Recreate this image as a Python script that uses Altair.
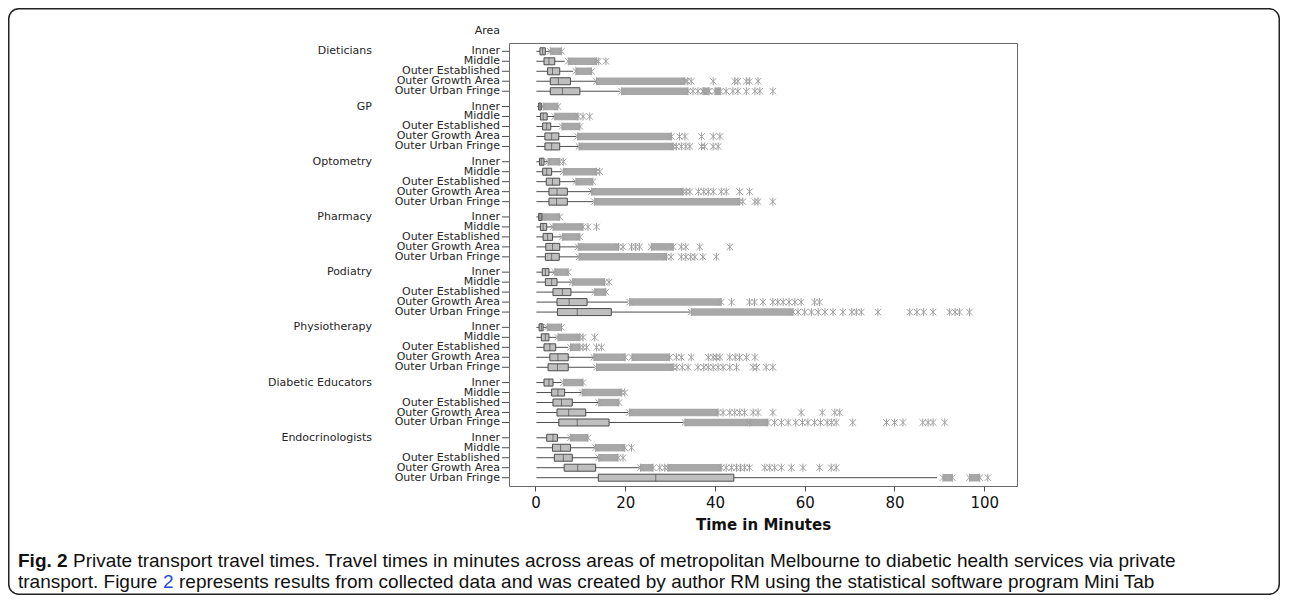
import altair as alt
import pandas as pd

services = ["Dieticians", "GP", "Optometry", "Pharmacy", "Podiatry",
            "Physiotherapy", "Diabetic Educators", "Endocrinologists"]
areas = ["Inner", "Middle", "Outer Established", "Outer Growth Area", "Outer Urban Fringe"]

# box statistics, one list of 5 areas per service
whisker_lo = [
    [0.2, 0.2, 0.2, 0.2, 0.2], [0.4, 0.2, 0.2, 0.2, 0.2], [0.2, 0.2, 0.2, 0.2, 0.2],
    [0.2, 0.2, 0.2, 0.2, 0.2], [0.2, 0.2, 0.2, 0.2, 0.2], [0.2, 0.2, 0.2, 0.2, 0.2],
    [0.2, 0.2, 0.2, 0.2, 0.2], [0.2, 0.2, 0.2, 0.2, 0.2]]
q1 = [
    [1.0, 1.9, 2.7, 3.3, 3.3], [0.7, 1.1, 1.6, 2.1, 2.1], [0.9, 1.6, 2.4, 3.0, 3.0],
    [0.7, 1.1, 1.7, 2.3, 2.2], [1.5, 2.2, 3.9, 4.8, 4.9], [0.8, 1.3, 1.9, 3.2, 2.8],
    [1.9, 3.6, 3.9, 4.8, 5.2], [2.5, 3.8, 4.2, 6.4, 14.0]]
median = [
    [1.6, 3.0, 3.8, 5.1, 6.0], [1.0, 1.7, 2.5, 3.6, 3.6], [1.3, 2.5, 3.8, 4.8, 4.7],
    [1.0, 1.7, 2.7, 3.8, 3.6], [2.2, 3.6, 6.0, 7.5, 9.3], [1.3, 2.2, 3.2, 5.0, 4.9],
    [3.0, 5.0, 5.8, 7.4, 9.3], [3.9, 5.6, 6.2, 9.4, 26.8]]
q3 = [
    [2.2, 4.3, 5.4, 7.8, 9.9], [1.3, 2.6, 3.4, 5.2, 5.4], [1.9, 3.6, 5.4, 7.1, 7.1],
    [1.4, 2.5, 3.8, 5.4, 5.3], [3.0, 4.8, 7.9, 11.5, 16.9], [1.7, 3.0, 4.5, 7.3, 7.3],
    [3.9, 6.5, 8.2, 11.2, 16.4], [4.9, 7.8, 8.2, 13.4, 44.2]]
whisker_hi = [
    [3.3, 6.5, 8.4, 13.6, 18.8], [1.7, 4.3, 5.4, 9.1, 9.5], [2.8, 5.8, 8.8, 12.5, 12.8],
    [1.6, 3.9, 5.8, 9.5, 9.5], [4.3, 8.0, 13.0, 20.6, 34.4], [2.6, 4.7, 7.3, 12.8, 13.2],
    [5.8, 10.2, 14.0, 20.6, 33.0], [7.6, 13.2, 14.0, 23.2, 89.5]]

# dense runs of outliers (start, end) per row
outlier_runs = [
    [[(3.3, 5.8)], [(7.3, 13.6)], [(9.0, 12.5)], [(13.6, 33.3)], [(19.2, 34.0), (37.5, 38.5), (40.0, 41.2)]],
    [[(1.7, 5.0)], [(4.3, 9.5)], [(5.9, 9.9)], [(9.4, 30.3)], [(9.7, 30.7)]],
    [[(2.8, 5.4)], [(6.2, 13.6)], [(9.0, 12.8)], [(12.5, 32.9)], [(13.1, 45.5)]],
    [[(1.6, 5.4)], [(3.9, 10.6)], [(6.0, 9.9)], [(9.5, 18.5), (25.8, 30.7)], [(9.7, 29.2)]],
    [[(4.3, 7.3)], [(8.2, 15.4)], [(13.2, 15.7)], [(21.0, 41.4)], [(34.7, 57.4)]],
    [[(2.6, 5.8)], [(5.0, 9.9)], [(7.8, 9.9)], [(13.0, 20.0), (21.5, 29.9)], [(13.6, 30.7)]],
    [[(6.2, 10.6)], [(10.4, 19.2)], [(14.1, 18.6)], [(20.9, 40.7)], [(33.3, 47.4), (47.7, 51.8)]],
    [[(7.8, 11.7)], [(13.4, 19.9)], [(14.1, 18.4)], [(23.4, 26.2), (29.5, 41.4)], [(90.8, 92.9), (96.7, 99.0)]],
]

# isolated outliers per row
outliers = [
    [[], [14.0, 15.7], [], [33.8, 34.7, 39.6, 44.4, 45.1, 47.0, 47.7, 49.6],
     [35.1, 36.2, 37.3, 38.7, 40.7, 42.5, 44.0, 45.1, 47.0, 48.9, 50.0, 52.9]],
    [[], [10.6, 12.1], [], [32.1, 33.3, 37.0, 39.6, 41.1],
     [31.4, 32.5, 33.5, 34.4, 37.0, 37.7, 39.6, 40.7]],
    [[6.2], [14.3], [], [33.6, 34.4, 36.3, 37.5, 38.5, 39.6, 41.4, 42.5, 45.5, 47.7],
     [46.2, 48.9, 49.6, 52.9]],
    [[], [11.7, 13.6], [], [19.5, 21.4, 22.3, 23.2, 32.5, 33.5, 36.6, 43.3],
     [30.2, 32.5, 33.5, 34.6, 35.5, 37.3, 40.3]],
    [[], [16.4], [], [43.7, 47.7, 48.8, 50.7, 52.9, 54.0, 55.2, 56.5, 57.8, 59.2, 62.2, 63.3],
     [58.5, 60.0, 61.5, 63.0, 64.5, 66.3, 68.5, 70.5, 71.5, 72.6, 76.3, 83.4, 85.0, 86.5, 88.6,
      92.3, 93.5, 94.5, 96.7]],
    [[], [10.6, 13.2], [10.6, 11.4, 13.6, 14.7],
     [31.4, 32.5, 34.7, 38.5, 39.6, 40.3, 41.1, 43.3, 44.5, 45.5, 47.0, 48.9],
     [31.5, 32.7, 34.0, 36.2, 37.5, 38.5, 39.6, 40.7, 41.8, 43.3, 44.8, 48.5, 49.3, 51.4, 52.9]],
    [[], [19.9], [], [41.8, 43.3, 44.4, 45.5, 46.6, 48.5, 49.6, 52.9, 59.2, 63.9, 66.7, 67.8],
     [53.3, 54.8, 56.3, 58.0, 59.5, 60.7, 62.2, 63.5, 65.0, 66.0, 67.0, 70.7, 78.2, 80.0, 81.9,
      86.3, 87.5, 88.6, 91.2]],
    [[], [21.4], [19.5], [27.7, 28.8, 42.5, 43.7, 44.8, 45.7, 46.6, 47.7, 51.1, 52.2, 53.3, 54.8,
                          57.0, 59.6, 63.3, 65.9, 67.0],
     [100.8]],
]

x_ticks = [0, 20, 40, 60, 80, 100]
x_title = "Time in Minutes"
caption_bold = "Fig. 2"
caption_line1 = ("Private transport travel times. Travel times in minutes across areas of "
                 "metropolitan Melbourne to diabetic health services via private")
caption_line2a = "transport. Figure"
caption_link = "2"
caption_line2b = ("represents results from collected data and was created by author RM using "
                  "the statistical software program Mini Tab")

# ---- tables built from the lists ----
box_rows, run_rows, pt_rows = [], [], []
for i, s in enumerate(services):
    for j, a in enumerate(areas):
        box_rows.append(dict(service=s, area=a, wlo=whisker_lo[i][j], q1=q1[i][j],
                             med=median[i][j], q3=q3[i][j], whi=whisker_hi[i][j]))
        for lo, hi in outlier_runs[i][j]:
            run_rows.append(dict(service=s, area=a, lo=lo, hi=hi))
            pt_rows.append(dict(service=s, area=a, v=lo))
            pt_rows.append(dict(service=s, area=a, v=hi))
        for v in outliers[i][j]:
            pt_rows.append(dict(service=s, area=a, v=v))
box_df = pd.DataFrame(box_rows)
run_df = pd.DataFrame(run_rows)
pt_df = pd.DataFrame(pt_rows)

DARK = "#4d4d4d"
LIGHT = "#a8a8a8"
LABEL = "#262626"

xscale = alt.Scale(domain=[-5.9, 107.3], nice=False, zero=False)
xaxis = alt.Axis(values=x_ticks, title=x_title, grid=False, domain=False,
                 tickColor=DARK, tickSize=5, labelFont="DejaVu Sans", labelFontSize=15,
                 labelColor="#111111", labelPadding=4, titleFont="DejaVu Sans",
                 titleFontSize=15, titleFontWeight="bold", titleColor="#111111",
                 titlePadding=7)


def X(field):
    return alt.X(field, type="quantitative", scale=xscale, axis=xaxis, title=x_title)


Y = alt.Y("service:N", scale=alt.Scale(domain=services, paddingInner=0.096, paddingOuter=0.06),
          axis=None)
YO = alt.YOffset("area:N", scale=alt.Scale(domain=areas, paddingInner=0, paddingOuter=0))

asterisk = "M0,-1L0,1M-0.8,-0.8L0.8,0.8M-0.8,0.8L0.8,-0.8"

whiskers = alt.Chart(box_df).mark_rule(color=DARK, strokeWidth=1).encode(
    x=X("wlo"), x2="whi:Q", y=Y, yOffset=YO)
runs = alt.Chart(run_df).mark_bar(size=7.5, color=LIGHT).encode(
    x=X("lo"), x2="hi:Q", y=Y, yOffset=YO)
points = alt.Chart(pt_df).mark_point(shape=asterisk, size=64, filled=False, color="#a0a0a0",
                                     strokeWidth=1, opacity=1).encode(
    x=X("v"), y=Y, yOffset=YO)
boxes = alt.Chart(box_df).mark_bar(size=7, fill="#bfbfbf", stroke=DARK, strokeWidth=1).encode(
    x=X("q1"), x2="q3:Q", y=Y, yOffset=YO)
medians = alt.Chart(box_df).mark_tick(color=DARK, thickness=1, size=7, orient="vertical").encode(
    x=X("med"), y=Y, yOffset=YO)

area_labels = alt.Chart(box_df).mark_text(align="right", baseline="middle", font="DejaVu Sans",
                                          fontSize=11, color=LABEL).encode(
    x=alt.value(-9), y=Y, yOffset=YO, text="area:N")
area_ticks = alt.Chart(box_df).mark_rule(color=DARK, strokeWidth=1).encode(
    x=alt.value(-7), x2=alt.value(0), y=Y, yOffset=YO)
service_labels = alt.Chart(box_df).transform_filter(alt.datum.area == "Inner").mark_text(
    align="right", baseline="middle", font="DejaVu Sans", fontSize=11, color=LABEL).encode(
    x=alt.value(-137), y=Y, yOffset=YO, text="service:N")
area_header = alt.Chart(pd.DataFrame({"t": ["Area"]})).mark_text(
    align="right", baseline="middle", font="DejaVu Sans", fontSize=11, color=LABEL).encode(
    x=alt.value(-9), y=alt.value(-12.5), text="t:N")

cap = pd.DataFrame({"t": [caption_bold, caption_line1, caption_line2a, caption_link, caption_line2b],
                    "kind": ["bold", "plain", "plain", "link", "plain"]})
CAPFONT = "Liberation Sans"
CAPSIZE = 19
Y1, Y2 = 518, 539
cap_bold = alt.Chart(cap).transform_filter(alt.datum.kind == "bold").mark_text(
    align="left", baseline="middle", font=CAPFONT, fontSize=CAPSIZE, fontWeight="bold",
    color="#111111").encode(x=alt.value(-491), y=alt.value(Y1), text="t:N")
cap_l1 = alt.Chart(cap).transform_filter(alt.datum.t == caption_line1).mark_text(
    align="left", baseline="middle", font=CAPFONT, fontSize=CAPSIZE, color="#111111").encode(
    x=alt.value(-436), y=alt.value(Y1), text="t:N")
cap_l2a = alt.Chart(cap).transform_filter(alt.datum.t == caption_line2a).mark_text(
    align="left", baseline="middle", font=CAPFONT, fontSize=CAPSIZE, color="#111111").encode(
    x=alt.value(-491), y=alt.value(Y2), text="t:N")
cap_link = alt.Chart(cap).transform_filter(alt.datum.kind == "link").mark_text(
    align="left", baseline="middle", font=CAPFONT, fontSize=CAPSIZE, color="#1f4fd8").encode(
    x=alt.value(-346), y=alt.value(Y2), text="t:N")
cap_l2b = alt.Chart(cap).transform_filter(alt.datum.t == caption_line2b).mark_text(
    align="left", baseline="middle", font=CAPFONT, fontSize=CAPSIZE, color="#111111").encode(
    x=alt.value(-330), y=alt.value(Y2), text="t:N")

border = alt.Chart(pd.DataFrame({"a": [0]})).mark_rect(
    fill="transparent", stroke="#222222", strokeWidth=1.5, cornerRadius=10).encode(
    x=alt.value(-500.25), x2=alt.value(770.25), y=alt.value(-34.25), y2=alt.value(551.25))

chart = alt.layer(
    whiskers, runs, points, boxes, medians,
    area_ticks, area_labels, service_labels, area_header,
    cap_bold, cap_l1, cap_l2a, cap_link, cap_l2b, border
).properties(
    width=508, height=443,
    padding={"left": 501, "top": 35, "right": 263, "bottom": 109},
    autosize=alt.AutoSizeParams(type="none"),
    background="white",
).configure_view(stroke="#6b6b6b", strokeWidth=1)

chart.save("out.html", embed_options={"renderer": "svg", "actions": False})
